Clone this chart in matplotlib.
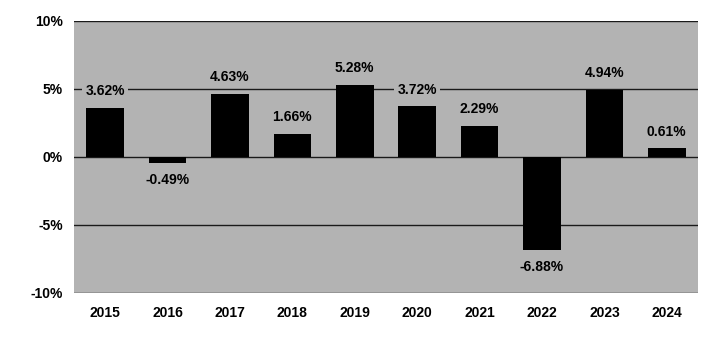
import matplotlib
matplotlib.use("Agg")
import matplotlib.pyplot as plt
from matplotlib import font_manager

years = ["2015", "2016", "2017", "2018", "2019", "2020", "2021", "2022", "2023", "2024"]
returns = [3.62, -0.49, 4.63, 1.66, 5.28, 3.72, 2.29, -6.88, 4.94, 0.61]
y_ticks = [-10, -5, 0, 5, 10]

names = {f.name for f in font_manager.fontManager.ttflist}
family = ["Liberation Sans Narrow"] if "Liberation Sans Narrow" in names else ["Liberation Sans"]
plt.rcParams["font.family"] = family + ["DejaVu Sans"]

bg = "#b3b3b3"
fig = plt.figure(figsize=(7.21, 3.38), dpi=100)
ax = fig.add_axes([74 / 721, 1 - 292.5 / 338, (698 - 74) / 721, (292.5 - 21) / 338])
ax.set_facecolor(bg)

x = list(range(len(years)))
ax.bar(x, returns, width=0.6, color="black", zorder=3)

for t in y_ticks:
    ax.axhline(t, color="#1a1a1a", lw=1.0, zorder=2)

for xi, v in zip(x, returns):
    if v >= 0:
        ax.annotate(f"{v:.2f}%", (xi, v), xytext=(0, 7), textcoords="offset points",
                    ha="center", va="bottom", fontsize=10, fontweight="bold", zorder=4,
                    bbox=dict(boxstyle="square,pad=0.25", fc=bg, ec="none"))
    else:
        ax.annotate(f"{v:.2f}%", (xi, v), xytext=(0, -7), textcoords="offset points",
                    ha="center", va="top", fontsize=10, fontweight="bold", zorder=4,
                    bbox=dict(boxstyle="square,pad=0.25", fc=bg, ec="none"))

ax.set_xlim(-0.5, len(years) - 0.5)
ax.set_ylim(-10, 10)
ax.set_yticks(y_ticks)
ax.set_yticklabels([f"{t}%" for t in y_ticks], fontsize=10, fontweight="bold")
ax.set_xticks(x)
ax.set_xticklabels(years, fontsize=10, fontweight="bold")
ax.tick_params(length=0)
ax.tick_params(axis="y", pad=8)
ax.tick_params(axis="x", pad=10)
for s in ax.spines.values():
    s.set_visible(False)

fig.savefig("out.png", dpi=100)
